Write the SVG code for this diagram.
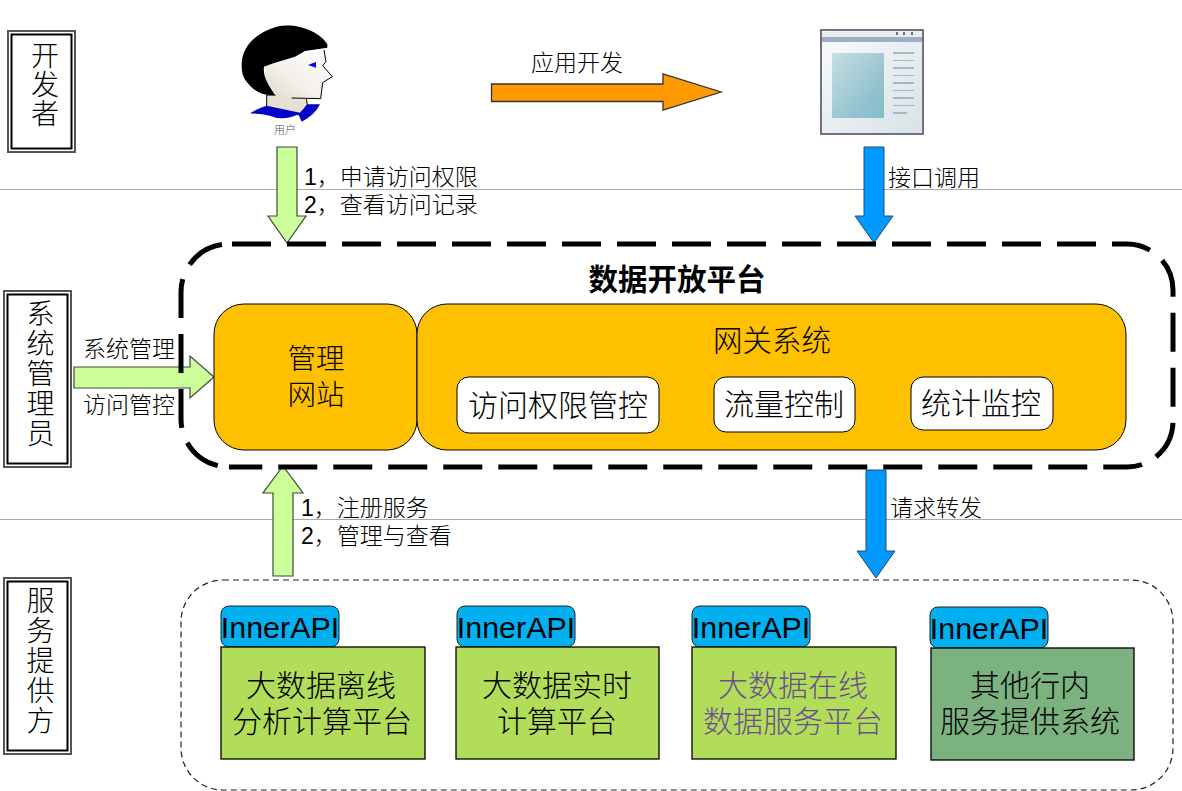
<svg xmlns="http://www.w3.org/2000/svg" width="1182" height="791" viewBox="0 0 1182 791">
<style>
text{font-family:"Liberation Sans","Noto Sans CJK SC",sans-serif;fill:#000;text-anchor:middle}
.cjk{font-weight:300}
.l{font-size:23px;text-anchor:start}
.m{font-size:30px}
.v{font-size:28px;writing-mode:vertical-rl;text-anchor:start;font-family:"Noto Sans CJK SC",sans-serif}
.role-o{fill:#fff;stroke:#555;stroke-width:2}
.role{fill:#fff;stroke:#000;stroke-width:2}
.sep{stroke:#aaa;stroke-width:1}
.org{fill:#ffc000;stroke:#000;stroke-width:1}
.wh{fill:#fff;stroke:#000;stroke-width:1}
.api{fill:#00b0f0;stroke:#222;stroke-width:1}
.box{fill:#b2dd5a;stroke:#000;stroke-width:1.3}
.ga{fill:#ccff99;stroke:#3b4a3b;stroke-width:1.200}
.ba{fill:#0099ff;stroke:#1f4e79;stroke-width:1}
.api text{font-size:30.400px}
.dash{fill:none;stroke:#000;stroke-width:5;stroke-dasharray:39 16}
</style>
<defs>
<linearGradient id="face" x1="1" y1="0" x2="0" y2="1"><stop offset="0" stop-color="#fff"/><stop offset=".6" stop-color="#f3f0ea"/><stop offset="1" stop-color="#e0d8cc"/></linearGradient>
<linearGradient id="win" x1="0" y1="0" x2="1" y2="1"><stop offset="0" stop-color="#f8fbfc"/><stop offset="1" stop-color="#d8e2e6"/></linearGradient>
<linearGradient id="pane" x1="0" y1="0" x2="1" y2="1"><stop offset="0" stop-color="#c8dde3"/><stop offset=".7" stop-color="#92c2ce"/><stop offset="1" stop-color="#84bcc9"/></linearGradient>
</defs>
<g id="separators"><line class="sep" x1="0" y1="189.500" x2="1182" y2="189.500"/><line class="sep" x1="0" y1="519.500" x2="1182" y2="519.500"/></g>

<g id="role-dev"><rect class="role-o" x="8" y="31" width="67" height="121"/><rect class="role" x="11.500" y="34.500" width="60" height="114"/><text class="v cjk" x="45" y="41" style="letter-spacing:1px">开发者</text></g>
<g id="role-admin"><rect class="role-o" x="4" y="291" width="67" height="176"/><rect class="role" x="7.500" y="294.500" width="60" height="169"/><text class="v cjk" x="40.500" y="299" style="letter-spacing:2px">系统管理员</text></g>
<g id="role-provider"><rect class="role-o" x="4" y="578" width="67" height="176"/><rect class="role" x="7.500" y="581.500" width="60" height="169"/><text class="v cjk" x="40.500" y="586" style="letter-spacing:2px">服务提供方</text></g>

<g id="user">
<g transform="translate(220 15) scale(.3333)">
<path d="M140 240 L140 280 L240 300 L262 270 L258 240Z" fill="#e6e0d6" stroke="#000" stroke-width="3"/>
<path d="M135 150 L310 100 L318 140 L308 152 L337 185 L308 203 L303 250 L215 250 L170 245 L135 190Z" fill="url(#face)"/>
<path d="M312 105 L318 140 L308 152 L337 185 L308 203 L302 251 L215 249" fill="none" stroke="#000" stroke-width="3"/>
<path d="M90 295 Q125 275 140 272 L240 293 L262 268 L300 268 Q285 300 245 320 L235 298 Q190 320 150 302 Q120 296 90 295Z" fill="#0000c8"/>
<path d="M65 150 C65 95 105 55 170 35 C230 22 300 50 322 88 L322 98 L255 108 L225 125 L160 145 L132 155 C128 185 145 210 165 240 C130 245 100 228 78 198 C68 185 65 170 65 150Z" fill="#000"/>
<path d="M264 150 L288 141 L288 158Z" fill="#0000ee"/>
</g>
<text x="285" y="134" class="cjk" style="font-size:11px;fill:#555">用户</text>
</g>

<g id="window">
<rect x="820" y="29" width="104" height="106" fill="#747082"/>
<rect x="822" y="31" width="100" height="102" fill="url(#win)"/>
<rect x="822" y="32" width="100" height="5" fill="#e6ecef"/>
<rect x="822" y="37" width="100" height="5" fill="#9eaec6"/>
<rect x="832" y="53" width="52" height="65" fill="url(#pane)"/>
<g fill="#a9b6c4"><rect x="893" y="52" width="21" height="2"/><rect x="893" y="60" width="21" height="1"/><rect x="893" y="67" width="21" height="2"/><rect x="893" y="75" width="21" height="1"/><rect x="893" y="82" width="21" height="2"/><rect x="893" y="90" width="21" height="1"/><rect x="893" y="97" width="21" height="2"/><rect x="893" y="105" width="22" height="1"/><rect x="893" y="112" width="14" height="2"/></g>
<g fill="#666e7c"><rect x="896" y="32" width="2" height="3"/><rect x="903" y="32" width="2" height="3"/><rect x="911" y="32" width="2" height="3"/></g>
</g>

<g id="connectors">
<path d="M491.500 84 H663 V74 L721 92 L663 110 V101.500 H491.500Z" fill="#ff9900" stroke="#333" stroke-width="1.300"/>
<path class="ga" d="M277 147 H297 V216 H306 L287 243 L268 216 H277Z"/>
<path class="ba" d="M864 147 H884 V216 H893 L874 243 L855 216 H864Z"/>
<path class="ga" d="M74 367 H190 V356 L214 377 L190 398 V388 H74Z"/>
<path class="ga" d="M273 576 V493 H263 L283 466 L303 493 H293 V576Z"/>
<path class="ba" d="M866 470 H886 V551 H895 L876 578 L857 551 H866Z"/>
</g>

<g id="connector-labels">
<text class="l cjk" x="531" y="71">应用开发</text>
<text class="l cjk"><tspan x="304" y="185">1，申请访问权限</tspan><tspan x="304" y="213">2，查看访问记录</tspan></text>
<text class="l cjk" x="888" y="186">接口调用</text>
<text class="l cjk" x="83" y="357">系统管理</text>
<text class="l cjk" x="83" y="413">访问管控</text>
<text class="l cjk"><tspan x="301" y="516">1，注册服务</tspan><tspan x="301" y="544">2，管理与查看</tspan></text>
<text class="l cjk" x="890" y="516">请求转发</text>
</g>

<g id="platform">
<path class="dash" style="stroke-dashoffset:52" d="M229 244 H1127 A46 46 0 0 1 1173 290 V421 A46 46 0 0 1 1127 467 H229"/>
<path class="dash" style="stroke-dashoffset:43.600" d="M229 467 A48 48 0 0 1 181 419 V292 A48 48 0 0 1 229 244"/>
<text x="677" y="290" style="font-size:29.500px;font-weight:700">数据开放平台</text>
</g>
<g id="admin-site"><rect class="org" x="214" y="304" width="203" height="146" rx="30"/><text class="cjk" style="font-size:28.500px"><tspan x="316" y="369">管理</tspan><tspan x="316" y="405">网站</tspan></text></g>
<g id="gateway"><rect class="org" x="417" y="304" width="709" height="146" rx="30"/><text class="cjk" x="772" y="351" style="font-size:29.500px">网关系统</text></g>
<g id="acl"><rect class="wh" x="457" y="377" width="202" height="56" rx="12"/><text class="m cjk" x="558" y="416">访问权限管控</text></g>
<g id="flow"><rect class="wh" x="714" y="377" width="141" height="55" rx="12"/><text class="m cjk" x="784" y="415">流量控制</text></g>
<g id="stats"><rect class="wh" x="911" y="377" width="142" height="53" rx="12"/><text class="m cjk" x="981" y="414">统计监控</text></g>

<g id="services"><rect x="181" y="580" width="992" height="210" rx="42" fill="none" stroke="#222" stroke-width="1.200" stroke-dasharray="6 4"/></g>
<g id="svc1" class="api"><rect x="221" y="606" width="118" height="41" rx="8"/><text x="280" y="638" stroke="none">InnerAPI</text></g>
<g id="svc1-box"><rect class="box" x="221" y="647" width="204" height="112"/><text class="m cjk"><tspan x="321" y="696">大数据离线</tspan><tspan x="322" y="732">分析计算平台</tspan></text></g>
<g id="svc2" class="api"><rect x="457" y="606" width="118" height="41" rx="8"/><text x="516" y="638" stroke="none">InnerAPI</text></g>
<g id="svc2-box"><rect class="box" x="456" y="647" width="203" height="112"/><text class="m cjk"><tspan x="557" y="696">大数据实时</tspan><tspan x="557" y="732">计算平台</tspan></text></g>
<g id="svc3" class="api"><rect x="692" y="606" width="118" height="41" rx="8"/><text x="751" y="638" stroke="none">InnerAPI</text></g>
<g id="svc3-box"><rect class="box" x="692" y="647" width="204" height="112"/><text class="m cjk" style="fill:#6a4f8f"><tspan x="793" y="696">大数据在线</tspan><tspan x="793" y="732">数据服务平台</tspan></text></g>
<g id="svc4" class="api"><rect x="930" y="607" width="118" height="41" rx="8"/><text x="989" y="639" stroke="none">InnerAPI</text></g>
<g id="svc4-box"><rect x="931" y="648" width="203" height="112" fill="#7bb27f" stroke="#000" stroke-width="1.300"/><text class="m cjk"><tspan x="1030" y="696">其他行内</tspan><tspan x="1030" y="732">服务提供系统</tspan></text></g>
</svg>
